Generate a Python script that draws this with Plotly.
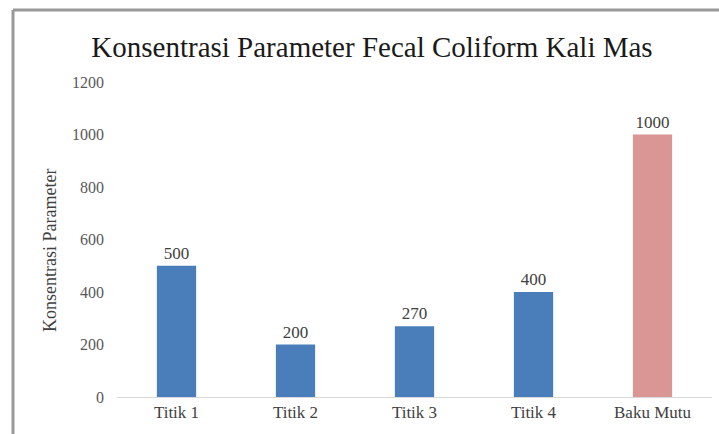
import plotly.graph_objects as go

categories = ["Titik 1", "Titik 2", "Titik 3", "Titik 4", "Baku Mutu"]
values = [500, 200, 270, 400, 1000]
bar_colors = ["#4a7ebb", "#4a7ebb", "#4a7ebb", "#4a7ebb", "#d99694"]
y_ticks = [0, 200, 400, 600, 800, 1000, 1200]

SERIF = "Liberation Serif, Times New Roman, DejaVu Serif, serif"

W, H = 719, 434
L, R, T, B = 117, 7, 82, 37
pw = W - L - R
ph = H - T - B

fig = go.Figure()
fig.add_trace(go.Bar(
    x=categories, y=values,
    marker=dict(color=bar_colors, line=dict(width=0)),
    width=0.33,
    text=[str(v) for v in values],
    textposition="outside",
    textfont=dict(family=SERIF, size=17, color="#404040"),
    cliponaxis=False,
))

def px_x(px):
    return (px - L) / pw

def px_y(py):
    return (H - B - py) / ph

fig.update_layout(
    width=W, height=H,
    margin=dict(l=L, r=R, t=T, b=B),
    paper_bgcolor="white", plot_bgcolor="white",
    showlegend=False,
    title=dict(
        text="Konsentrasi Parameter Fecal Coliform Kali Mas",
        font=dict(family=SERIF, size=29, color="#1a1a1a"),
        x=372 / W, xanchor="center",
        y=1 - 47 / H, yanchor="middle",
        xref="container", yref="container",
    ),
    xaxis=dict(
        showgrid=False, showline=True, linecolor="#d9d9d9", linewidth=1,
        ticks="", tickfont=dict(family=SERIF, size=17, color="#404040"),
        zeroline=False,
    ),
    yaxis=dict(
        range=[0, 1200], tickvals=y_ticks,
        showgrid=False, showline=False, zeroline=False, ticks="",
        tickfont=dict(family=SERIF, size=16, color="#595959"),
        ticklabelstandoff=12,
    ),
    annotations=[dict(
        text="Konsentrasi Parameter", textangle=-90,
        x=px_x(50), y=px_y(251), xref="paper", yref="paper",
        showarrow=False, xanchor="center", yanchor="middle",
        font=dict(family=SERIF, size=18, color="#404040"),
    )],
    shapes=[
        dict(type="line", xref="paper", yref="paper",
             x0=px_x(13), x1=px_x(725), y0=px_y(10), y1=px_y(10),
             line=dict(color="#9a9a9a", width=3)),
        dict(type="line", xref="paper", yref="paper",
             x0=px_x(13), x1=px_x(13), y0=px_y(10), y1=px_y(440),
             line=dict(color="#9a9a9a", width=3)),
    ],
)

fig.write_html("out.html")
